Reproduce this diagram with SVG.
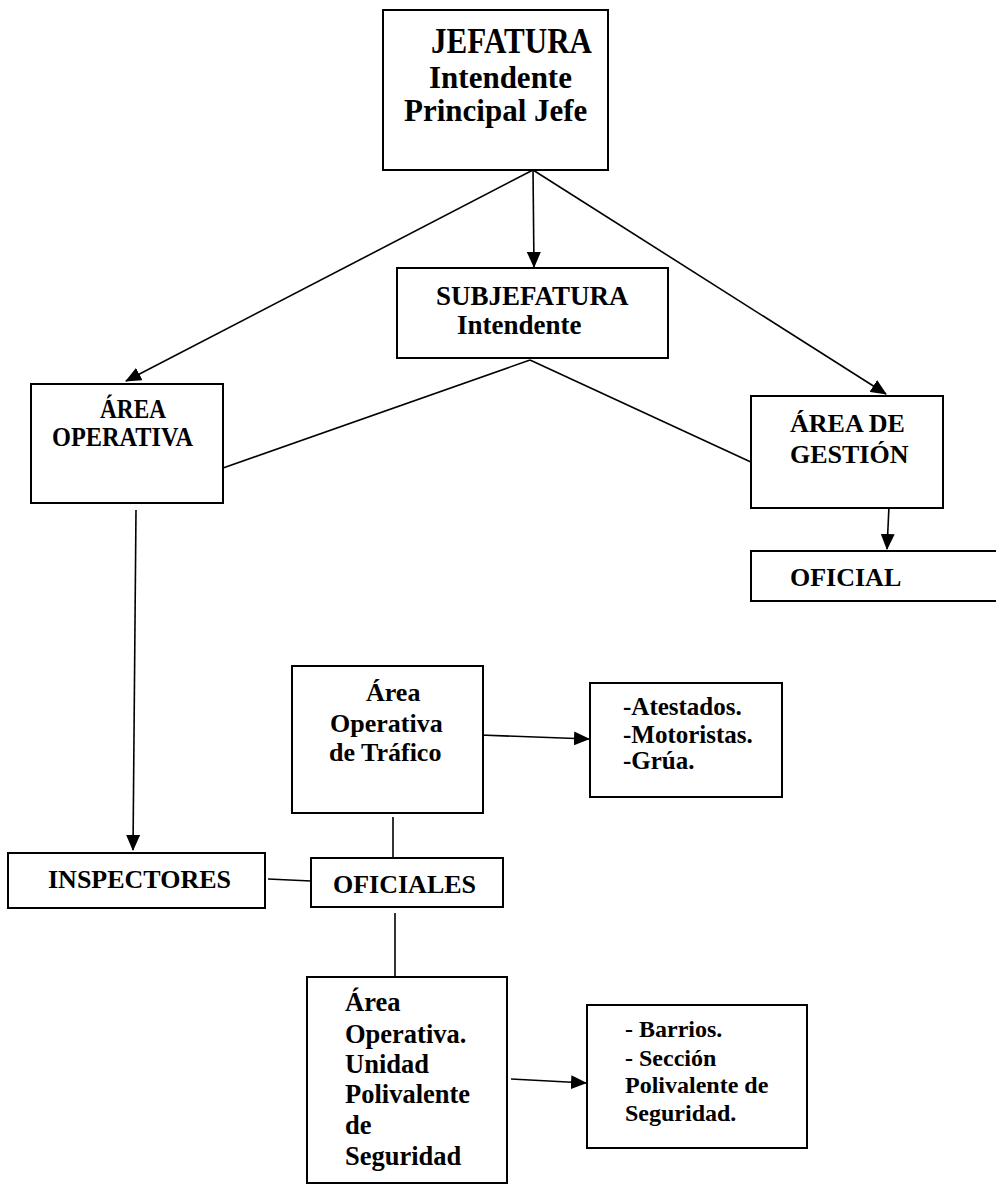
<svg xmlns="http://www.w3.org/2000/svg" width="996" height="1186" viewBox="0 0 996 1186">
<style>
.box{fill:#fff;stroke:#000;stroke-width:2}
.ln{fill:none;stroke:#000;stroke-width:1.6}
text{font-family:"Liberation Serif","Times New Roman",serif;font-weight:bold;fill:#000}
</style>
<defs>
<marker id="ah" markerUnits="userSpaceOnUse" markerWidth="16" markerHeight="14" refX="15" refY="7" orient="auto">
<path d="M0,0 L16,7 L0,14 Z" fill="#000"/>
</marker>
</defs>
<rect width="996" height="1186" fill="#fff"/>
<g id="connectors">
<line class="ln" x1="533" y1="170" x2="534" y2="267" marker-end="url(#ah)"/>
<line class="ln" x1="533" y1="170" x2="126" y2="381" marker-end="url(#ah)"/>
<line class="ln" x1="533" y1="170" x2="886" y2="394" marker-end="url(#ah)"/>
<line class="ln" x1="530" y1="360" x2="223" y2="468"/>
<line class="ln" x1="530" y1="360" x2="753" y2="463"/>
<line class="ln" x1="889" y1="506" x2="887" y2="549" marker-end="url(#ah)"/>
<line class="ln" x1="136" y1="510" x2="133" y2="850" marker-end="url(#ah)"/>
<line class="ln" x1="268" y1="879" x2="311" y2="881"/>
<line class="ln" x1="393" y1="817" x2="393" y2="866"/>
<line class="ln" x1="395" y1="913" x2="395" y2="978"/>
<line class="ln" x1="480" y1="735" x2="589" y2="739" marker-end="url(#ah)"/>
<line class="ln" x1="511" y1="1079" x2="586" y2="1083" marker-end="url(#ah)"/>
</g>
<g id="jefatura">
<rect class="box" x="383" y="10" width="225" height="160"/>
<text x="431" y="53" font-size="35" textLength="161" lengthAdjust="spacingAndGlyphs">JEFATURA</text>
<text x="429" y="88" font-size="31">Intendente</text>
<text x="404" y="121" font-size="31">Principal Jefe</text>
</g>
<g id="subjefatura">
<rect class="box" x="397" y="268" width="271" height="90"/>
<text x="436" y="305" font-size="27">SUBJEFATURA</text>
<text x="457" y="334" font-size="27">Intendente</text>
</g>
<g id="area-operativa">
<rect class="box" x="31" y="384" width="192" height="119"/>
<text x="100" y="418" font-size="26.5" textLength="66" lengthAdjust="spacingAndGlyphs">ÁREA</text>
<text x="52" y="446" font-size="26.5" textLength="141" lengthAdjust="spacingAndGlyphs">OPERATIVA</text>
</g>
<g id="area-gestion">
<rect class="box" x="751" y="396" width="192" height="112"/>
<text x="790" y="432" font-size="26">ÁREA DE</text>
<text x="790" y="463" font-size="26">GESTIÓN</text>
</g>
<g id="oficial">
<rect class="box" x="751" y="551" width="260" height="50"/>
<text x="790" y="586" font-size="26">OFICIAL</text>
</g>
<g id="trafico">
<rect class="box" x="292" y="666" width="191" height="147"/>
<text x="366" y="701" font-size="26">Área</text>
<text x="330" y="732" font-size="26">Operativa</text>
<text x="329" y="761" font-size="26">de Tráfico</text>
</g>
<g id="atestados">
<rect class="box" x="590" y="683" width="192" height="114"/>
<text x="623" y="715" font-size="25">-Atestados.</text>
<text x="623" y="743" font-size="25">-Motoristas.</text>
<text x="623" y="769" font-size="25">-Grúa.</text>
</g>
<g id="inspectores">
<rect class="box" x="8" y="853" width="257" height="55"/>
<text x="48" y="888" font-size="26">INSPECTORES</text>
</g>
<g id="oficiales">
<rect class="box" x="311" y="858" width="192" height="49"/>
<text x="333" y="893" font-size="26">OFICIALES</text>
</g>
<g id="unidad">
<rect class="box" x="307" y="977" width="200" height="206"/>
<text x="345" y="1011" font-size="26.5">Área</text>
<text x="345" y="1043" font-size="26.5">Operativa.</text>
<text x="345" y="1073" font-size="26.5">Unidad</text>
<text x="345" y="1103" font-size="26.5">Polivalente</text>
<text x="345" y="1134" font-size="26.5">de</text>
<text x="345" y="1165" font-size="26.5">Seguridad</text>
</g>
<g id="barrios">
<rect class="box" x="587" y="1005" width="220" height="143"/>
<text x="625" y="1037" font-size="24">- Barrios.</text>
<text x="625" y="1066" font-size="24">- Sección</text>
<text x="625" y="1093" font-size="24">Polivalente de</text>
<text x="625" y="1121" font-size="24">Seguridad.</text>
</g>
</svg>
